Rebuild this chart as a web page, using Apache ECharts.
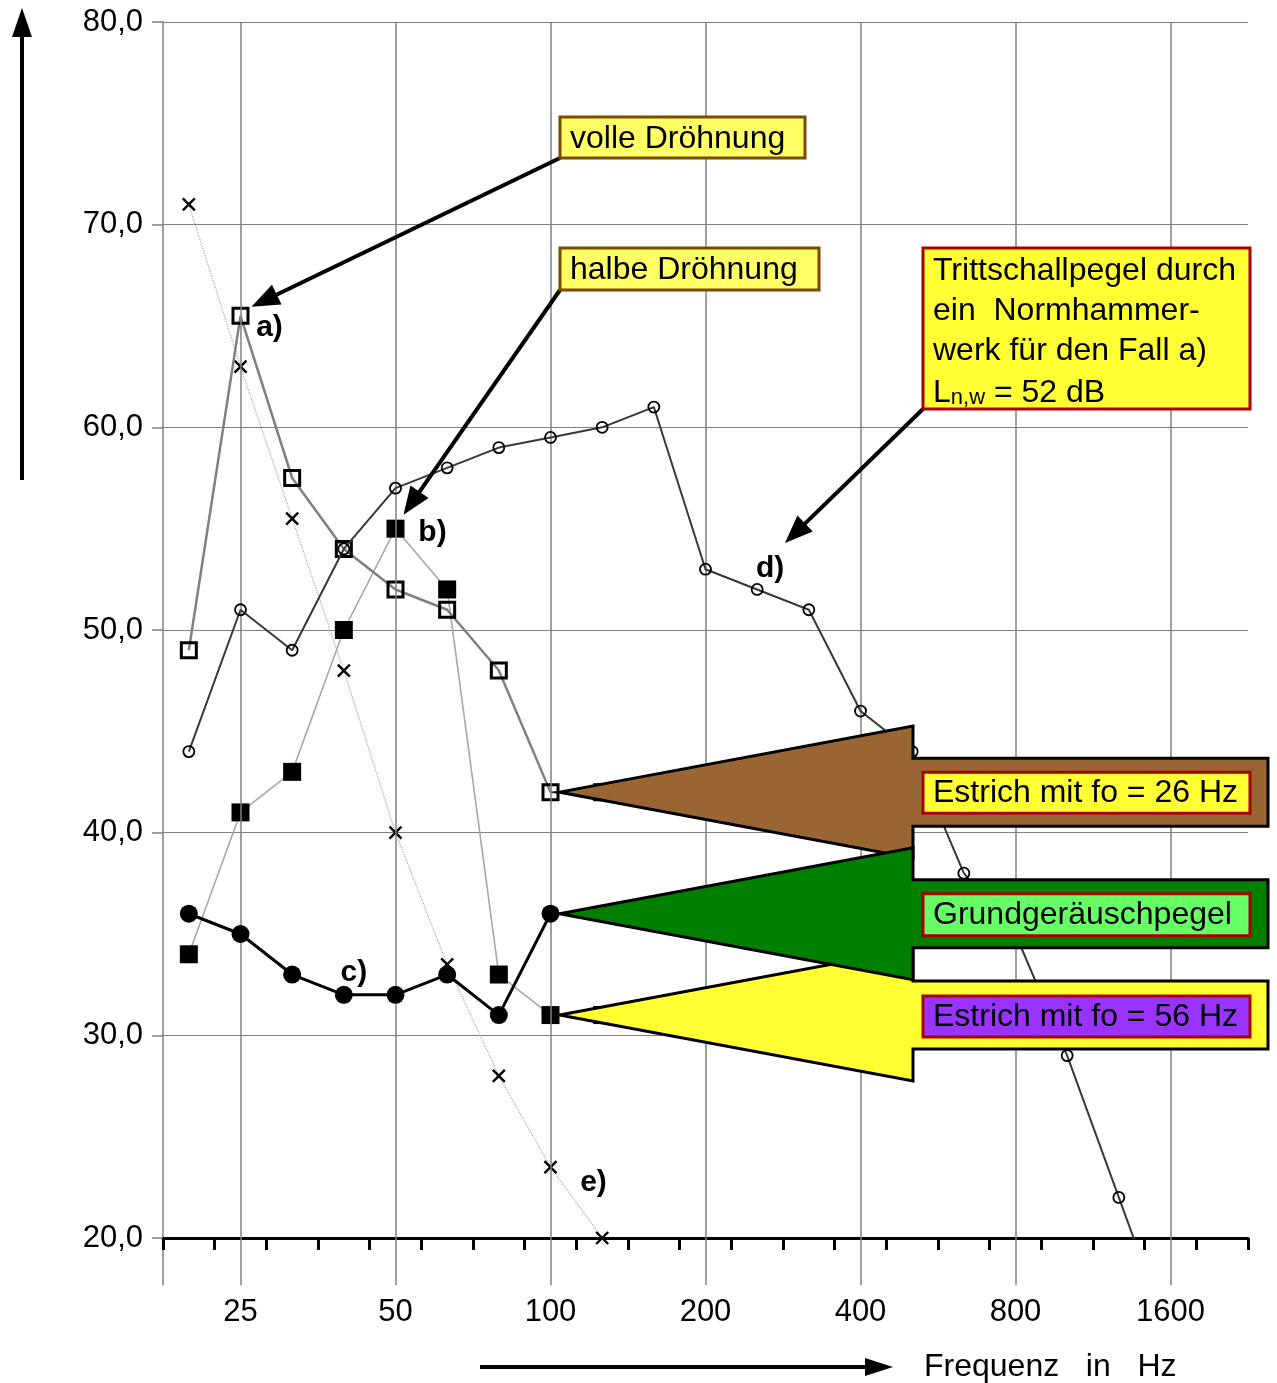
<!DOCTYPE html>
<html><head><meta charset="utf-8">
<script src="https://cdn.jsdelivr.net/npm/echarts@6/dist/echarts.min.js"></script>
<style>html,body{margin:0;padding:0;background:#fff}#c{width:1277px;height:1383px}</style>
</head><body><div id="c"></div>
<script>
// third-octave band centre frequencies (Hz)
const frequencies = ['20','25','31.5','40','50','63','80','100','125','160','200','250','315','400','500','630','800','1000','1250','1600','2000'];
const labelledFrequencies = ['25','50','100','200','400','800','1600'];
// a) Estrich mit fo = 26 Hz (volle Dröhnung)
const seriesA = [49, 65.5, 57.5, 54, 52, 51, 48, 42, 42, null, null, null, null, null, null, null, null, null, null, null, null];
// b) Estrich mit fo = 56 Hz (halbe Dröhnung)
const seriesB = [34, 41, 43, 50, 55, 52, 33, 31, 31, null, null, null, null, null, null, null, null, null, null, null, null];
// c) Grundgeräuschpegel
const seriesC = [36, 35, 33, 32, 32, 33, 31, 36, null, null, null, null, null, null, null, null, null, null, null, null, null];
// d) Trittschallpegel (Normhammerwerk, Fall a)
const seriesD = [44, 51, 49, 54, 57, 58, 59, 59.5, 60, 61, 53, 52, 51, 46, 44, 38, 35, 29, 22, 15, null];
// e)
const seriesE = [71, 63, 55.5, 48, 40, 33.5, 28, 23.5, 20, 16.2, null, null, null, null, null, null, null, null, null, null, null];

const FONT = "'Liberation Sans', Arial, Helvetica, sans-serif";
const chart = echarts.init(document.getElementById('c'));
const nulls = frequencies.map(() => null);
const gridLineStyle = {color: '#808080', width: 1.5, type: 'solid'};
const vGrid = labelledFrequencies.map(f => ({xAxis: f}));
const crossPath = 'path://M0,0L10,10M10,0L0,10';

chart.setOption({
  animation: false,
  backgroundColor: '#fff',
  grid: [
    {left: 163, right: 29, top: 22, bottom: 145},
    {left: 163, right: 29, top: 1238, bottom: 98}
  ],
  xAxis: [
    {type: 'category', gridIndex: 0, data: frequencies, boundaryGap: true,
     axisLine: {lineStyle: {color: '#000', width: 3}},
     axisTick: {show: true, interval: 0, length: 12, lineStyle: {color: '#000', width: 3}},
     axisLabel: {show: false}, splitLine: {show: false}},
    {type: 'category', gridIndex: 1, data: frequencies, boundaryGap: true,
     axisLine: {show: false}, axisTick: {show: false}, splitLine: {show: false},
     axisLabel: {interval: 0, margin: 12, fontSize: 31, fontFamily: FONT, color: '#000',
       formatter: v => labelledFrequencies.includes(v) ? v : ''}}
  ],
  yAxis: [
    {type: 'value', gridIndex: 0, min: 20, max: 80, interval: 10,
     axisLine: {show: true, lineStyle: {color: '#808080', width: 1.5}},
     axisTick: {show: true, length: 11, lineStyle: {color: '#808080', width: 1.5}},
     axisLabel: {margin: 20, fontSize: 31, fontFamily: FONT, color: '#000',
       formatter: v => v.toFixed(1).replace('.', ',')},
     splitLine: {show: true, lineStyle: {color: '#808080', width: 1.2}}},
    {type: 'value', gridIndex: 1, min: 0, max: 1,
     axisLine: {show: true, lineStyle: {color: '#808080', width: 1.5}},
     axisTick: {show: false}, axisLabel: {show: false}, splitLine: {show: false}}
  ],
  series: [
    {type: 'line', xAxisIndex: 0, yAxisIndex: 0, data: nulls, silent: true, z: 1, symbol: 'none',
     markLine: {silent: true, symbol: ['none', 'none'], label: {show: false}, lineStyle: gridLineStyle, data: vGrid}},
    {type: 'line', xAxisIndex: 1, yAxisIndex: 1, data: nulls, silent: true, z: 1, symbol: 'none',
     markLine: {silent: true, symbol: ['none', 'none'], label: {show: false}, lineStyle: gridLineStyle, data: vGrid}},
    {name: 'e', type: 'line', data: seriesE, z: 2, symbol: crossPath, symbolSize: 12,
     itemStyle: {color: 'transparent', borderColor: '#000', borderWidth: 2.4},
     lineStyle: {color: '#a8a8a8', width: 1.2, type: 'dotted'}},
    {name: 'b', type: 'line', data: seriesB, z: 3, symbol: 'rect', symbolSize: 18,
     itemStyle: {color: '#000'}, lineStyle: {color: '#a8a8a8', width: 1.6}},
    {name: 'a', type: 'line', data: seriesA, z: 4, symbol: 'rect', symbolSize: 15,
     itemStyle: {color: 'transparent', borderColor: '#000', borderWidth: 3},
     lineStyle: {color: '#808080', width: 2.5}},
    {name: 'd', type: 'line', data: seriesD, z: 5, symbol: 'circle', symbolSize: 11,
     itemStyle: {color: 'transparent', borderColor: '#000', borderWidth: 1.8},
     lineStyle: {color: '#383838', width: 2}},
    {name: 'c', type: 'line', data: seriesC, z: 6, symbol: 'circle', symbolSize: 18,
     itemStyle: {color: '#000'}, lineStyle: {color: '#000', width: 3}}
  ]
});

function px(series, freq) {
  const i = frequencies.indexOf(freq);
  return chart.convertToPixel({gridIndex: 0}, [i, series[i]]);
}
function arrow(x1, y1, x2, y2, w, hl, hw) {
  const dx = x2 - x1, dy = y2 - y1, L = Math.hypot(dx, dy);
  const ux = dx / L, uy = dy / L;
  const bx = x2 - ux * hl, by = y2 - uy * hl;
  return [
    {type: 'line', z: 100, shape: {x1: x1, y1: y1, x2: bx + ux * 2, y2: by + uy * 2}, style: {stroke: '#000', lineWidth: w}},
    {type: 'polygon', z: 100, shape: {points: [[x2, y2], [bx - uy * hw, by + ux * hw], [bx + uy * hw, by - ux * hw]]}, style: {fill: '#000'}}
  ];
}
function bigArrow(tx, ty, fill, z) {
  return {type: 'polygon', z: z, shape: {points: [[tx, ty], [913, ty - 66], [913, ty - 34], [1268, ty - 34], [1268, ty + 34], [913, ty + 34], [913, ty + 66]]},
    style: {fill: fill, stroke: '#000', lineWidth: 3, lineJoin: 'miter'}};
}
function box(x, y, w, h, fill, stroke, z) {
  return {type: 'rect', z: z, shape: {x: x, y: y, width: w, height: h}, style: {fill: fill, stroke: stroke, lineWidth: 3}};
}
function txt(t, x, y, z, extra) {
  return Object.assign({type: 'text', z: z, style: Object.assign({text: t, x: x, y: y, fill: '#000', fontSize: 32, fontFamily: FONT,
    textAlign: 'left', textVerticalAlign: 'middle', align: 'left', verticalAlign: 'middle'}, extra || {})});
}
function tag(t, p, ox, oy) {
  return txt(t, p[0] + ox, p[1] + oy, 90, {fontSize: 30, fontWeight: 'bold', textAlign: 'center', align: 'center'});
}

const pa25 = px(seriesA, '25'), pb50 = px(seriesB, '50'), pc40 = px(seriesC, '40'), pd250 = px(seriesD, '250'), pe100 = px(seriesE, '100');
const pa100 = px(seriesA, '100'), pb100 = px(seriesB, '100'), pc100 = px(seriesC, '100');

const g = [];
// axis arrows
g.push({type: 'line', z: 100, shape: {x1: 22, y1: 480, x2: 22, y2: 34}, style: {stroke: '#000', lineWidth: 4}});
g.push({type: 'polygon', z: 100, shape: {points: [[22, 8], [12, 37], [32, 37]]}, style: {fill: '#000'}});
g.push({type: 'line', z: 100, shape: {x1: 480, y1: 1367, x2: 868, y2: 1367}, style: {stroke: '#000', lineWidth: 4}});
g.push({type: 'polygon', z: 100, shape: {points: [[893, 1367], [865, 1358], [865, 1376]]}, style: {fill: '#000'}});
g.push(txt('Frequenz   in   Hz', 924, 1367, 100));
// curve tags
g.push(tag('a)', pa25, 29, 12));
g.push(tag('b)', pb50, 37, 4));
g.push(tag('c)', pc40, 10, -22));
g.push(tag('d)', pd250, 13, -21));
g.push(tag('e)', pe100, 43, 16));
// callouts
g.push(...arrow(560, 158, pa25[0] + 11, pa25[1] - 9, 4, 28, 11));
g.push(box(560, 117, 245, 41, '#FFFF66', '#7A4A00', 110));
g.push(txt('volle Dröhnung', 570, 139, 111));
g.push(...arrow(560, 290, pb50[0] + 8, pb50[1] - 14, 4, 28, 11));
g.push(box(560, 248, 259, 42, '#FFFF66', '#7A4A00', 110));
g.push(txt('halbe Dröhnung', 570, 270, 111));
g.push(...arrow(923, 409, 785, 543, 4, 28, 11));
g.push(box(923, 248, 327, 161, '#FFFF33', '#AA0000', 110));
g.push(txt('Trittschallpegel durch', 933, 271, 111));
g.push(txt('ein  Normhammer-', 933, 311, 111));
g.push(txt('werk für den Fall a)', 933, 351, 111));
g.push(txt('{b|L}{s|n,w}{b| = 52 dB}', 933, 391, 111, {rich: {
  b: {fontSize: 32, fontFamily: FONT, lineHeight: 36, verticalAlign: 'bottom'},
  s: {fontSize: 22, fontFamily: FONT, lineHeight: 28, verticalAlign: 'bottom'}}}));
// big arrows
g.push(bigArrow(pa100[0] + 9, pa100[1], '#996633', 120));
g.push(box(923, pa100[1] - 20, 327, 41, '#FFFF33', '#AA0000', 121));
g.push(txt('Estrich mit fo = 26 Hz', 933, pa100[1] + 1, 122));
g.push(bigArrow(pb100[0] + 9, pb100[1], '#FFFF33', 124));
g.push(box(923, pb100[1] - 19, 327, 41, '#9933FF', '#AA0000', 125));
g.push(txt('Estrich mit fo = 56 Hz', 933, pb100[1] + 2, 126));
g.push(bigArrow(pc100[0] + 9, pc100[1], '#008000', 128));
g.push(box(923, pc100[1] - 20, 327, 42, '#66FF66', '#AA0000', 129));
g.push(txt('Grundgeräuschpegel', 933, pc100[1] + 1, 130));

chart.setOption({graphic: g});
</script></body></html>
